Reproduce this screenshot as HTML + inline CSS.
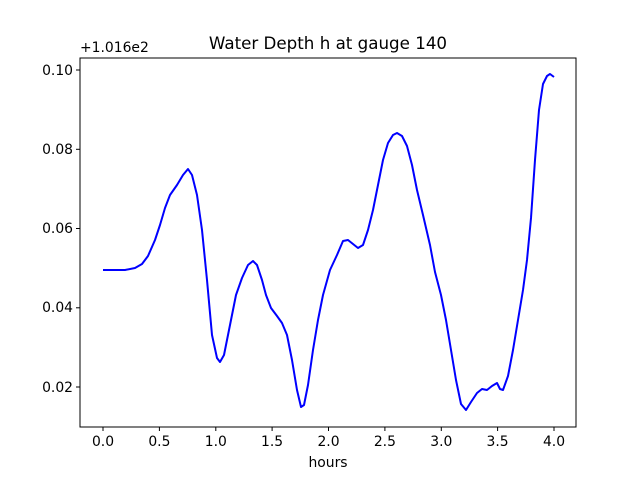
<!DOCTYPE html>
<html><head><meta charset="utf-8"><style>body{margin:0;background:#fff}svg{display:block}text{font-family:"DejaVu Sans","Liberation Sans",sans-serif;font-size:13.9px;fill:#000}</style></head>
<body>
<svg width="640" height="480" xmlns="http://www.w3.org/2000/svg">
<rect width="640" height="480" fill="#fff"/>
<rect x="80" y="58" width="496" height="369" fill="none" stroke="#000" stroke-width="1"/>
<g stroke="#000" stroke-width="1">
<line x1="103" y1="427" x2="103" y2="431"/><line x1="159.4" y1="427" x2="159.4" y2="431"/><line x1="215.8" y1="427" x2="215.8" y2="431"/><line x1="272.1" y1="427" x2="272.1" y2="431"/><line x1="328.5" y1="427" x2="328.5" y2="431"/><line x1="384.9" y1="427" x2="384.9" y2="431"/><line x1="441.3" y1="427" x2="441.3" y2="431"/><line x1="497.6" y1="427" x2="497.6" y2="431"/><line x1="554" y1="427" x2="554" y2="431"/>
<line x1="76" y1="70" x2="80" y2="70"/><line x1="76" y1="149.3" x2="80" y2="149.3"/><line x1="76" y1="228.5" x2="80" y2="228.5"/><line x1="76" y1="307.8" x2="80" y2="307.8"/><line x1="76" y1="387" x2="80" y2="387"/>
</g>
<g text-anchor="middle">
<text x="103" y="446">0.0</text><text x="159.4" y="446">0.5</text><text x="215.8" y="446">1.0</text><text x="272.1" y="446">1.5</text><text x="328.5" y="446">2.0</text><text x="384.9" y="446">2.5</text><text x="441.3" y="446">3.0</text><text x="497.6" y="446">3.5</text><text x="554" y="446">4.0</text>
<text x="328" y="467">hours</text>
<text x="328" y="49" style="font-size:16.7px">Water Depth h at gauge 140</text>
</g>
<g text-anchor="end">
<text x="73" y="75">0.10</text><text x="73" y="154">0.08</text><text x="73" y="233">0.06</text><text x="73" y="312">0.04</text><text x="73" y="392">0.02</text>
</g>
<text x="80" y="52">+1.016e2</text>
<polyline fill="none" stroke="#0000ff" stroke-width="2" stroke-linejoin="round" points="103,270 125,270 135,268 142,264 148,256 155,240 160,225 165,208 170,195 177,185 183,175 188,169 192,175 197,195 202,230 207,280 212,335 217,358 220,362 224,355 230,325 236,295 242,278 248,265 253,261 257,265 262,280 266,295 271,308 277,316 282,323 287,335 292,360 297,390 301,407 304,405 308,385 313,350 318,320 323,295 330,270 337,255 343,241 348,240 353,244 358,248 363,245 368,230 373,210 378,185 383,160 388,143 393,135 397,133 402,136 407,146 412,165 417,190 423,215 430,245 435,272 441,295 446,320 451,350 456,380 461,404 466,410 471,402 477,393 482,389 487,390 492,386 497,383 500,389 503,390 508,376 513,350 518,320 523,290 527,260 531,218 535,160 539,110 543,84 547,76 550,74 554,77"/>
</svg>
</body></html>
